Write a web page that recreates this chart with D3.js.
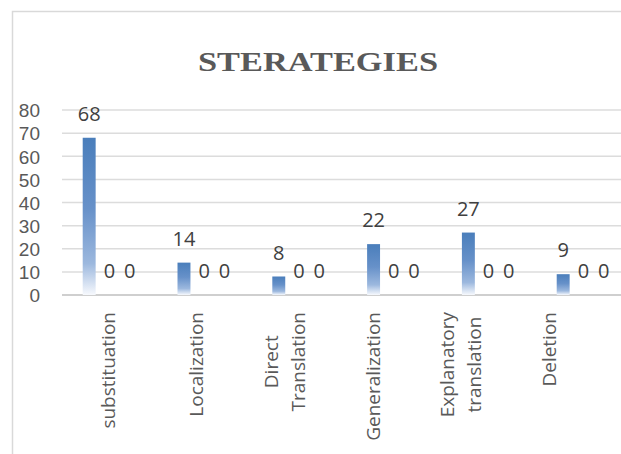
<!DOCTYPE html>
<html>
<head>
<meta charset="utf-8">
<script src="https://cdn.jsdelivr.net/npm/d3@7"></script>
<style>
  html, body { margin: 0; padding: 0; background: #fff; }
  svg { display: block; }
</style>
</head>
<body>
<svg id="chart" width="621" height="454"></svg>
<script>
const title = "STERATEGIES";
const categories = ["substituation", "Localization", "Direct Translation", "Generalization", "Explanatory translation", "Deletion"];
const categoryLines = [["substituation"], ["Localization"], ["Direct", "Translation"], ["Generalization"], ["Explanatory", "translation"], ["Deletion"]];
const seriesNames = ["Series1", "Series2", "Series3"];
const series1 = [68, 14, 8, 22, 27, 9];
const series2 = [0, 0, 0, 0, 0, 0];
const series3 = [0, 0, 0, 0, 0, 0];
const yTicks = [0, 10, 20, 30, 40, 50, 60, 70, 80];

const seriesValues = [series1, series2, series3];
const svg = d3.select("#chart");

// frame (partial border as in the reference)
svg.append("path")
  .attr("d", "M12.5,454 L12.5,11.5 L621,11.5")
  .attr("fill", "none").attr("stroke", "#d9d9d9").attr("stroke-width", 1.5);

// gradient
const defs = svg.append("defs");
const grad = defs.append("linearGradient").attr("id", "barGrad")
  .attr("x1", 0).attr("y1", 0).attr("x2", 0).attr("y2", 1);
[[0, "#4a7ebb"], [0.45, "#6791c9"], [0.8, "#9cb8de"], [1, "#f7f9fd"]].forEach(([o, c]) =>
  grad.append("stop").attr("offset", o).attr("stop-color", c));

// scales
const y = d3.scaleLinear().domain([0, 80]).range([295, 110]);
const x = d3.scaleBand().domain(categories).range([62, 62 + 6 * 94.8]).padding(0);
const bw = x.bandwidth();
const x1 = d3.scaleBand().domain(seriesNames).range([bw * 0.18, bw * 0.82]).padding(0);
const barW = x1.bandwidth() * 0.64;
const xLabel = d3.scalePoint().domain(categories).range([108.5, 549]);

// gridlines
svg.append("g").selectAll("line").data(yTicks).join("line")
  .attr("x1", 62).attr("x2", 621)
  .attr("y1", d => y(d)).attr("y2", d => y(d))
  .attr("stroke", d => d === 0 ? "#cfcfcf" : "#dcdcdc")
  .attr("stroke-width", d => d === 0 ? 2 : 1.5);

// y axis labels
const yAxis = d3.axisLeft(y).tickValues(yTicks).tickSize(0).tickPadding(0);
const gy = svg.append("g").attr("transform", "translate(40,0)").call(yAxis);
gy.select(".domain").remove();
gy.selectAll("text")
  .attr("font-family", "Liberation Sans, Arial, sans-serif")
  .attr("font-size", 19)
  .attr("fill", "#595959")
  .attr("dy", "0.36em");

// bars
const groups = svg.append("g").selectAll("g").data(categories).join("g")
  .attr("transform", d => `translate(${x(d)},0)`);

groups.each(function(cat, ci) {
  const g = d3.select(this);
  seriesNames.forEach((s, si) => {
    const v = seriesValues[si][ci];
    const cx = x1(s) + x1.bandwidth() / 2;
    if (v > 0) {
      g.append("rect")
        .attr("x", cx - barW / 2)
        .attr("y", y(v))
        .attr("width", barW)
        .attr("height", y(0) - y(v))
        .attr("fill", "url(#barGrad)");
    }
    g.append("text")
      .attr("x", cx)
      .attr("y", y(v) - 17)
      .attr("text-anchor", "middle")
      .attr("font-family", "Open Sans, sans-serif")
      .attr("font-size", 20)
      .attr("fill", "#404040")
      .text(v);
  });
});

// category labels (rotated)
const lineGap = 27;
const topY = 312;
categories.forEach((cat, i) => {
  const lines = categoryLines[i];
  const n = lines.length;
  const cx = xLabel(cat);
  const g = svg.append("g")
    .attr("transform", `translate(${cx},${topY}) rotate(-90)`);
  const texts = lines.map((ln, li) => g.append("text")
    .attr("font-family", "Open Sans, sans-serif")
    .attr("font-size", 19)
    .attr("fill", "#595959")
    .attr("text-anchor", "middle")
    .attr("y", (li - (n - 1) / 2) * lineGap)
    .attr("dy", "0.36em")
    .text(ln));
  const maxW = d3.max(texts, t => t.node().getComputedTextLength());
  texts.forEach(t => t.attr("x", -maxW / 2));
});

// title
svg.append("text")
  .attr("x", 318).attr("y", 71)
  .attr("text-anchor", "middle")
  .attr("font-family", "Liberation Serif, DejaVu Serif, serif")
  .attr("font-weight", "bold")
  .attr("font-size", 27)
  .attr("fill", "#595959")
  .attr("textLength", 240)
  .attr("lengthAdjust", "spacingAndGlyphs")
  .text(title);
</script>
</body>
</html>
